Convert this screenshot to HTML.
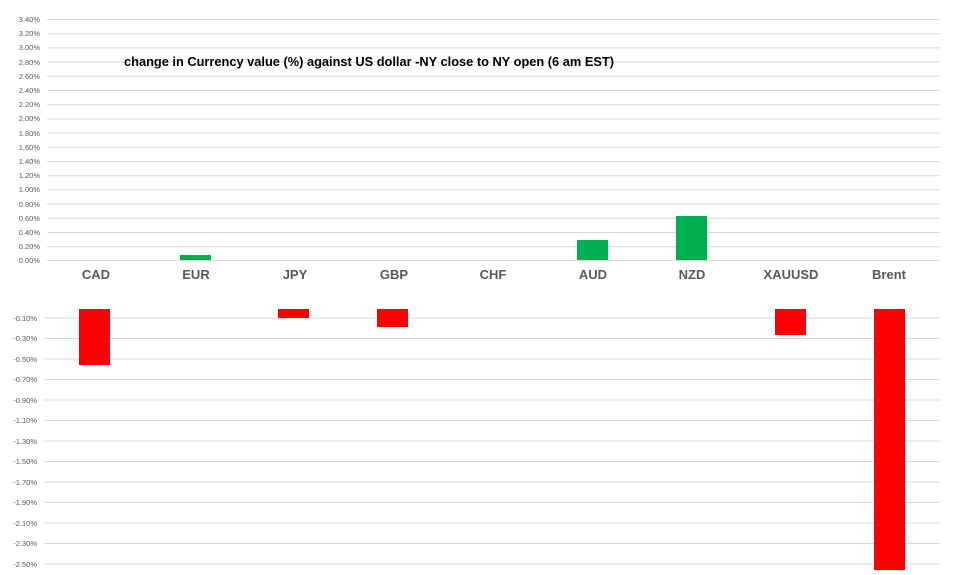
<!DOCTYPE html>
<html><head><meta charset="utf-8"><style>
body{margin:0;background:#fff;}
svg text{font-family:"Liberation Sans",sans-serif;}
</style></head><body>
<svg width="958" height="570" xmlns="http://www.w3.org/2000/svg">
<g stroke="#d9d9d9" stroke-width="1">
<line x1="47" x2="940" y1="19.5" y2="19.5"/><line x1="47" x2="940" y1="33.7" y2="33.7"/><line x1="47" x2="940" y1="47.9" y2="47.9"/><line x1="47" x2="940" y1="62.1" y2="62.1"/><line x1="47" x2="940" y1="76.3" y2="76.3"/><line x1="47" x2="940" y1="90.5" y2="90.5"/><line x1="47" x2="940" y1="104.7" y2="104.7"/><line x1="47" x2="940" y1="118.9" y2="118.9"/><line x1="47" x2="940" y1="133.1" y2="133.1"/><line x1="47" x2="940" y1="147.3" y2="147.3"/><line x1="47" x2="940" y1="161.5" y2="161.5"/><line x1="47" x2="940" y1="175.7" y2="175.7"/><line x1="47" x2="940" y1="189.9" y2="189.9"/><line x1="47" x2="940" y1="204.1" y2="204.1"/><line x1="47" x2="940" y1="218.3" y2="218.3"/><line x1="47" x2="940" y1="232.5" y2="232.5"/><line x1="47" x2="940" y1="246.7" y2="246.7"/><line x1="47" x2="940" y1="260.5" y2="260.5"/>
<line x1="44" x2="940" y1="318" y2="318"/><line x1="44" x2="940" y1="338.5" y2="338.5"/><line x1="44" x2="940" y1="359" y2="359"/><line x1="44" x2="940" y1="379.5" y2="379.5"/><line x1="44" x2="940" y1="400" y2="400"/><line x1="44" x2="940" y1="420.5" y2="420.5"/><line x1="44" x2="940" y1="441" y2="441"/><line x1="44" x2="940" y1="461.5" y2="461.5"/><line x1="44" x2="940" y1="482" y2="482"/><line x1="44" x2="940" y1="502.5" y2="502.5"/><line x1="44" x2="940" y1="523" y2="523"/><line x1="44" x2="940" y1="543.5" y2="543.5"/><line x1="44" x2="940" y1="564" y2="564"/>
</g>
<g font-size="7.5" fill="#595959" text-anchor="end">
<text x="40" y="22">3.40%</text><text x="40" y="36">3.20%</text><text x="40" y="50">3.00%</text><text x="40" y="65">2.80%</text><text x="40" y="79">2.60%</text><text x="40" y="93">2.40%</text><text x="40" y="107">2.20%</text><text x="40" y="121">2.00%</text><text x="40" y="136">1.80%</text><text x="40" y="150">1.60%</text><text x="40" y="164">1.40%</text><text x="40" y="178">1.20%</text><text x="40" y="192">1.00%</text><text x="40" y="207">0.80%</text><text x="40" y="221">0.60%</text><text x="40" y="235">0.40%</text><text x="40" y="249">0.20%</text><text x="40" y="263">0.00%</text>
<text x="37" y="321">-0.10%</text><text x="37" y="341">-0.30%</text><text x="37" y="362">-0.50%</text><text x="37" y="382">-0.70%</text><text x="37" y="403">-0.90%</text><text x="37" y="423">-1.10%</text><text x="37" y="444">-1.30%</text><text x="37" y="464">-1.50%</text><text x="37" y="485">-1.70%</text><text x="37" y="505">-1.90%</text><text x="37" y="526">-2.10%</text><text x="37" y="546">-2.30%</text><text x="37" y="567">-2.50%</text>
</g>
<text x="124" y="66" font-size="13" font-weight="bold" fill="#000" textLength="490" lengthAdjust="spacingAndGlyphs">change in Currency value (%)  against US dollar -NY close to NY open (6 am EST)</text>
<g fill="#00b050">
<rect x="180" y="255" width="31" height="5"/><rect x="577" y="240" width="31" height="20"/><rect x="676" y="216" width="31" height="44"/>
</g>
<g fill="#ff0000">
<rect x="79" y="309" width="31" height="56"/><rect x="278" y="309" width="31" height="9"/><rect x="377" y="309" width="31" height="18"/><rect x="775" y="309" width="31" height="26"/><rect x="874" y="309" width="31" height="261"/>
</g>
<g font-size="13" font-weight="bold" fill="#595959" text-anchor="middle">
<text x="96" y="279">CAD</text><text x="196" y="279">EUR</text><text x="295" y="279">JPY</text><text x="394" y="279">GBP</text><text x="493" y="279">CHF</text><text x="593" y="279">AUD</text><text x="692" y="279">NZD</text><text x="791" y="279">XAUUSD</text><text x="889" y="279">Brent</text>
</g>
</svg>
</body></html>
